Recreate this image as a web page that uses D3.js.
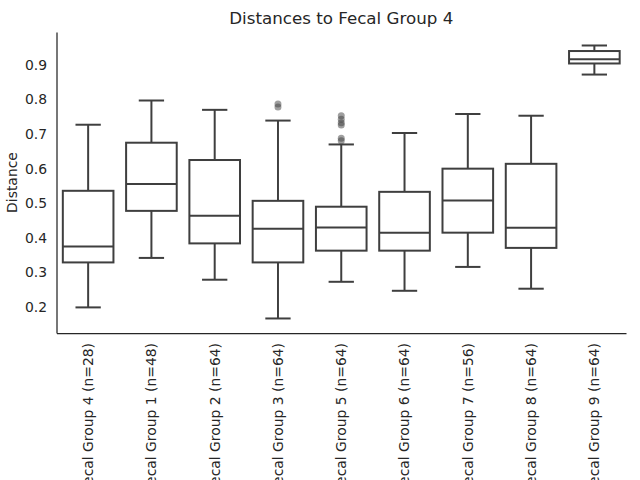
<!DOCTYPE html>
<html>
<head>
<meta charset="utf-8">
<script src="https://cdn.jsdelivr.net/npm/d3@7"></script>
<style>
  body { margin: 0; background: #fff; }
  svg { display: block; font-family: "DejaVu Sans", sans-serif; }
</style>
</head>
<body>
<svg id="chart" width="640" height="480"></svg>
<script>
const categories = [
  "Fecal Group 4 (n=28)", "Fecal Group 1 (n=48)", "Fecal Group 2 (n=64)",
  "Fecal Group 3 (n=64)", "Fecal Group 5 (n=64)", "Fecal Group 6 (n=64)",
  "Fecal Group 7 (n=56)", "Fecal Group 8 (n=64)", "Fecal Group 9 (n=64)"
];
const whiskerLow  = [0.199, 0.342, 0.279, 0.167, 0.273, 0.247, 0.316, 0.253, 0.872];
const q1          = [0.329, 0.478, 0.384, 0.329, 0.363, 0.363, 0.415, 0.371, 0.904];
const median      = [0.375, 0.556, 0.464, 0.426, 0.430, 0.415, 0.508, 0.429, 0.916];
const q3          = [0.536, 0.675, 0.625, 0.507, 0.490, 0.533, 0.600, 0.614, 0.940];
const whiskerHigh = [0.727, 0.797, 0.770, 0.739, 0.670, 0.703, 0.758, 0.753, 0.956];
const outliers    = [[], [], [], [0.787, 0.778], [0.753, 0.743, 0.733, 0.726, 0.688, 0.681], [], [], [], []];
const yTicks = [0.2, 0.3, 0.4, 0.5, 0.6, 0.7, 0.8, 0.9];

const margin = { left: 56.5, right: 14, top: 32, bottom: 147 };
const width = 640, height = 480;
const textColor = "#262626";
const lineColor = "#3f3f3f";

const svg = d3.select("#chart");

const x = d3.scaleBand()
  .domain(categories)
  .range([margin.left, width - margin.right])
  .paddingInner(0.2)
  .paddingOuter(0.1);

const y = d3.scaleLinear()
  .domain([0.125, 0.995])
  .range([height - margin.bottom, margin.top]);

// axes (no tick marks, seaborn white style)
const yAxis = svg.append("g")
  .attr("transform", `translate(${margin.left},0)`)
  .call(d3.axisLeft(y).tickValues(yTicks).tickFormat(d3.format(".1f")).tickSize(0).tickPadding(9.5));
yAxis.select(".domain").attr("stroke", textColor).attr("stroke-width", 1.25);
yAxis.selectAll("text").attr("font-size", 13.9).attr("fill", textColor).attr("font-family", "DejaVu Sans");

const xAxis = svg.append("g")
  .attr("transform", `translate(0,${height - margin.bottom})`)
  .call(d3.axisBottom(x).tickSize(0).tickPadding(0));
xAxis.select(".domain").attr("stroke", textColor).attr("stroke-width", 1.25);
xAxis.selectAll("text")
  .attr("font-size", 13.9)
  .attr("fill", textColor)
  .attr("font-family", "DejaVu Sans")
  .attr("text-anchor", "end")
  .attr("dy", "0.35em")
  .attr("transform", "translate(0,10) rotate(-90)")
  .attr("x", 0).attr("y", 0);

// boxes
const rows = categories.map((c, i) => ({
  c, lo: whiskerLow[i], q1: q1[i], med: median[i], q3: q3[i], hi: whiskerHigh[i], out: outliers[i]
}));

const g = svg.append("g")
  .attr("fill", "none")
  .attr("stroke", lineColor)
  .attr("stroke-width", 2);

const box = g.selectAll("g.box").data(rows).enter().append("g").attr("class", "box");
const bw = x.bandwidth();

box.append("line")
  .attr("x1", d => x(d.c) + bw / 2).attr("x2", d => x(d.c) + bw / 2)
  .attr("y1", d => y(d.lo)).attr("y2", d => y(d.q1));
box.append("line")
  .attr("x1", d => x(d.c) + bw / 2).attr("x2", d => x(d.c) + bw / 2)
  .attr("y1", d => y(d.q3)).attr("y2", d => y(d.hi));
box.append("line")
  .attr("x1", d => x(d.c) + bw / 4).attr("x2", d => x(d.c) + bw * 3 / 4)
  .attr("y1", d => y(d.lo)).attr("y2", d => y(d.lo));
box.append("line")
  .attr("x1", d => x(d.c) + bw / 4).attr("x2", d => x(d.c) + bw * 3 / 4)
  .attr("y1", d => y(d.hi)).attr("y2", d => y(d.hi));
box.append("rect")
  .attr("x", d => x(d.c)).attr("width", bw)
  .attr("y", d => y(d.q3)).attr("height", d => y(d.q1) - y(d.q3))
  .attr("fill", "#fff");
box.append("line")
  .attr("x1", d => x(d.c)).attr("x2", d => x(d.c) + bw)
  .attr("y1", d => y(d.med)).attr("y2", d => y(d.med));

box.selectAll("circle")
  .data(d => d.out.map(v => ({ c: d.c, v })))
  .enter().append("circle")
  .attr("cx", d => x(d.c) + bw / 2)
  .attr("cy", d => y(d.v))
  .attr("r", 3.5)
  .attr("stroke", "none")
  .attr("fill", lineColor)
  .attr("fill-opacity", 0.5);

// title and label
svg.append("text")
  .attr("x", (margin.left + width - margin.right) / 2)
  .attr("y", 24)
  .attr("text-anchor", "middle")
  .attr("font-size", 16.7)
  .attr("fill", textColor)
  .text("Distances to Fecal Group 4");

svg.append("text")
  .attr("transform", `translate(17,${(margin.top + height - margin.bottom) / 2}) rotate(-90)`)
  .attr("text-anchor", "middle")
  .attr("font-size", 13.9)
  .attr("fill", textColor)
  .text("Distance");
</script>
</body>
</html>
